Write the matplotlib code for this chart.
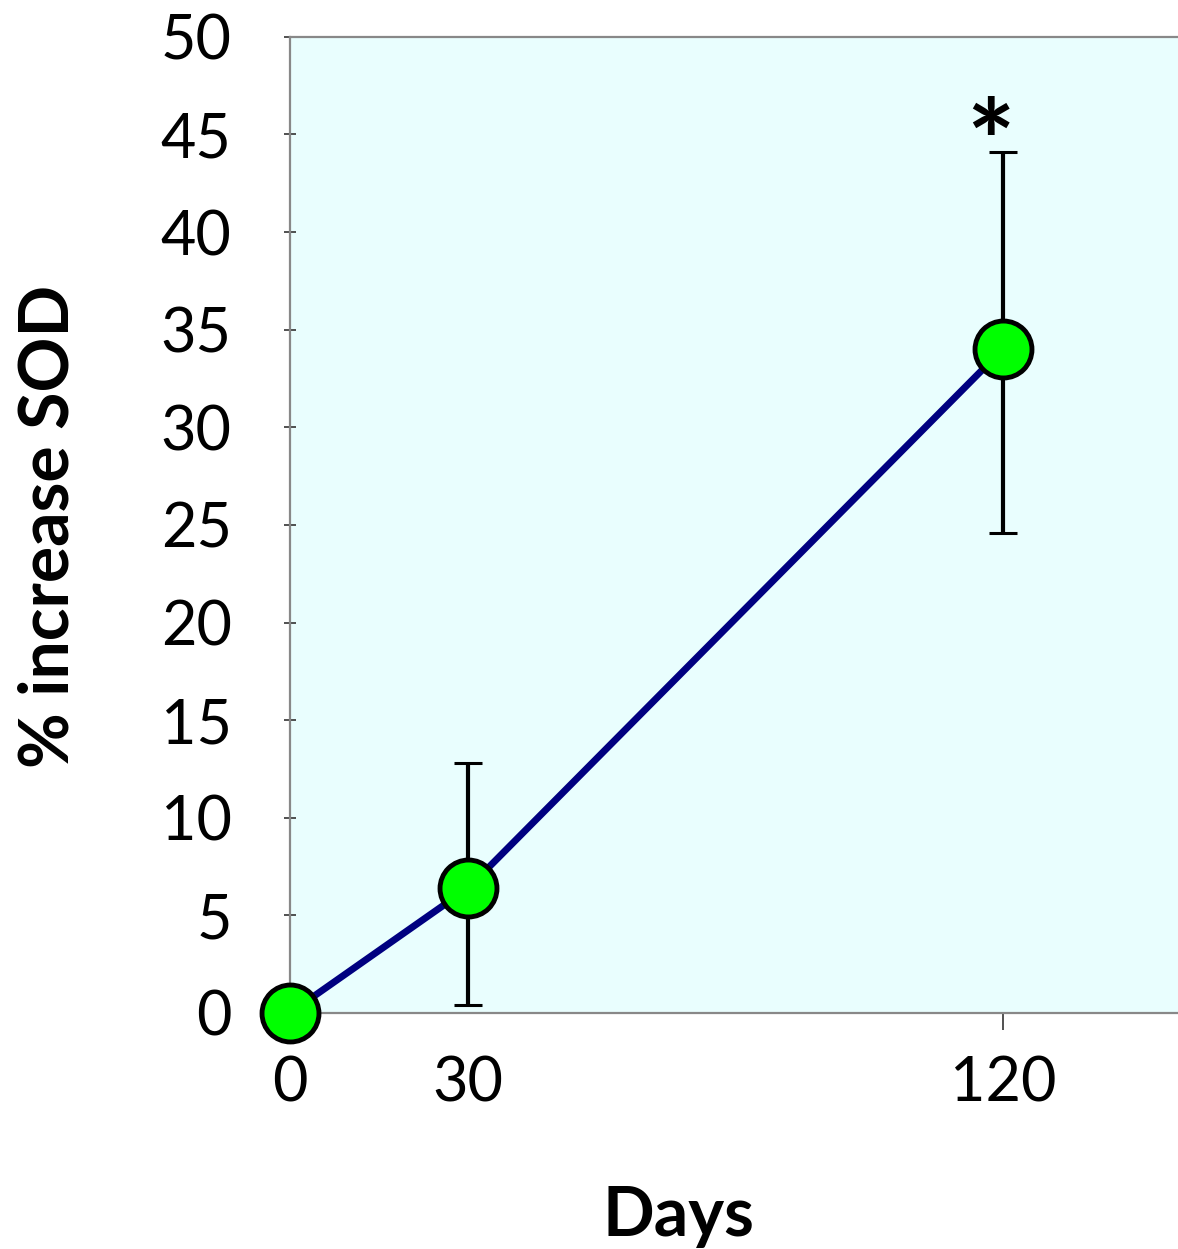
#!/usr/bin/env python3
"""SOD increase over time: mean % change with error bars."""

import matplotlib
matplotlib.use("Agg")
import matplotlib.pyplot as plt

plt.rcParams["font.family"] = ["Lato", "DejaVu Sans"]

# data
days = [0, 30, 120]
sod_increase = [0.0, 6.4, 34.0]
err_low = [0.0, 6.0, 9.4]
err_high = [0.0, 6.4, 10.1]
tick_days = [0, 30, 120]
y_ticks = list(range(0, 55, 5))

fig = plt.figure(figsize=(11.78, 12.49), dpi=100)
ax = fig.add_axes([0.2462, 0.189, 0.7538, 0.7815])
ax.set_facecolor("#E9FEFE")

# error bars only for the points that have them
ax.errorbar(days[1:], sod_increase[1:], yerr=[err_low[1:], err_high[1:]],
            fmt="none", ecolor="black", elinewidth=3, capsize=10, capthick=2.2,
            zorder=3)
ax.plot(days, sod_increase, color="#000080", lw=5, zorder=2,
        solid_capstyle="round", clip_on=False)
ax.plot(days, sod_increase, linestyle="none", marker="o", markersize=41,
        markerfacecolor="#00FF00", markeredgecolor="black", markeredgewidth=3.5,
        zorder=4, clip_on=False)

# significance mark, a bit left of the 120-day bar
ax.text(days[2] - 2, 44.2, "*", ha="center", va="center", fontsize=82,
        fontweight="bold", color="black")

ax.set_xlim(0, 149.5)
ax.set_ylim(0, 50)
ax.set_yticks(y_ticks)
ax.set_xticks(tick_days)
ax.set_xticklabels([str(d) for d in tick_days])

for side in ("left", "top", "bottom"):
    ax.spines[side].set_color("#888888")
    ax.spines[side].set_linewidth(1.6)
ax.spines["right"].set_visible(False)

ax.tick_params(axis="y", direction="inout", length=8, width=1.2,
               color="#333333", labelsize=44, pad=38)
ax.tick_params(axis="x", direction="out", length=12, width=1.2,
               color="#333333", labelsize=44, pad=19)
# only the 120 tick has a visible mark
xlines = ax.xaxis.get_ticklines()
for i, tl in enumerate(xlines):
    if i < 4:
        tl.set_visible(False)

ax.set_ylabel("% increase SOD", fontsize=49, fontweight="bold")
ax.yaxis.set_label_coords(-0.236, 0.498)
ax.set_xlabel("Days", fontsize=49, fontweight="bold")
ax.xaxis.set_label_coords(0.437, -0.176)

fig.savefig("out.png", dpi=100)
plt.close(fig)
